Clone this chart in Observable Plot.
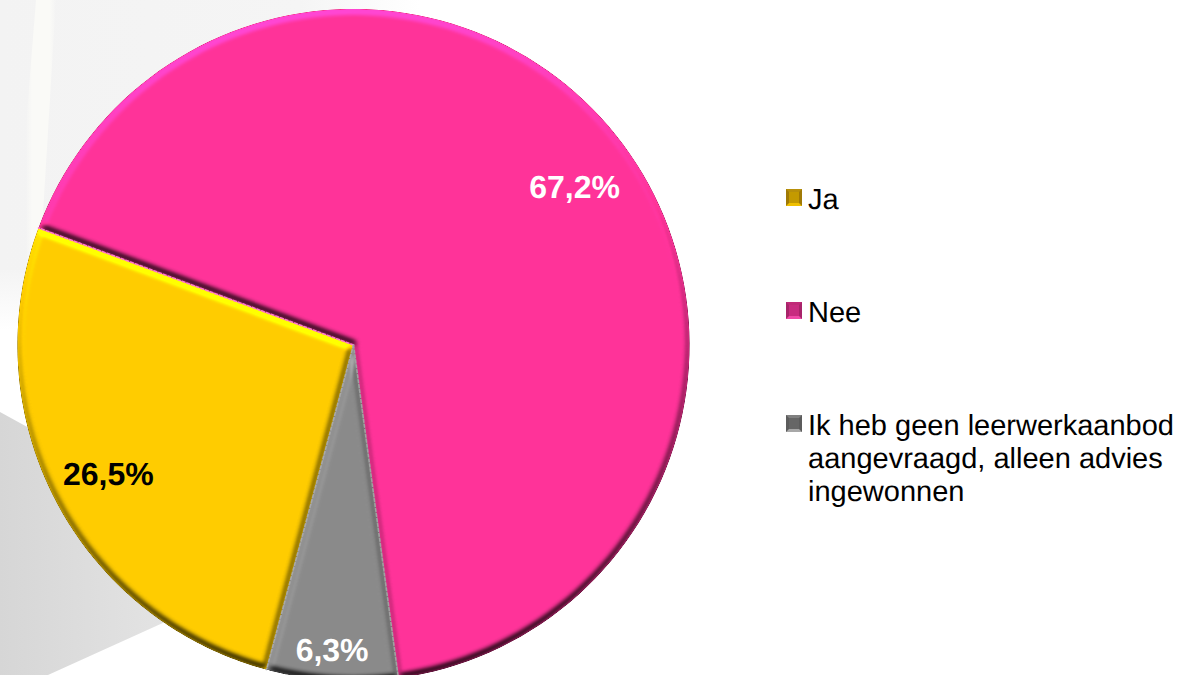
<!DOCTYPE html>
<html lang="nl">
<head>
<meta charset="utf-8">
<script src="https://cdn.jsdelivr.net/npm/d3@7"></script>
<script src="https://cdn.jsdelivr.net/npm/@observablehq/plot@0.6"></script>
<style>
  html, body { margin: 0; padding: 0; background: #fff; overflow: hidden; }
  #stage { position: relative; width: 1180px; height: 675px; overflow: hidden; font-family: "Liberation Sans", Arial, sans-serif; text-rendering: geometricPrecision; }
  .bg { position: absolute; inset: 0; }
  #bgTop { background: linear-gradient(90deg, #f3f3f3 0, #f5f5f5 300px, #ffffff 420px); clip-path: polygon(0 0, 440px 0, 300px 60px, 300px 350px, 0 280px); }
  #bgStreak { background: linear-gradient(90deg, transparent 26px, #fafaf7 32px, #fafaf7 50px, transparent 56px); clip-path: polygon(36px 0, 56px 0, 42px 230px, 12px 300px); }
  #bgWhite { background: linear-gradient(180deg, #f4f4f4 270px, #ffffff 330px); clip-path: polygon(0 270px, 30px 270px, 30px 420px, 0 410px); }
  #bgGrey { background: linear-gradient(90deg, #d6d6d6 0, #e6e6e6 200px); clip-path: polygon(0 412px, 60px 445px, 240px 610px, 165px 622px, 48px 675px, 0 675px); }
  #stage svg.chart { position: absolute; left: 0; top: 0; }
  #legend { position: absolute; left: 0; top: 0; font-size: 29px; line-height: 33px; color: #000; }
  .item { position: absolute; left: 786px; white-space: pre; }
  .item span { position: absolute; left: 22px; top: 0; }
  .item i { position: absolute; left: 0; top: 5px; width: 10px; height: 11px; border-style: solid; border-width: 3px; }
</style>
</head>
<body>
<svg width="0" height="0" style="position:absolute">
  <filter id="bevel" x="-5%" y="-5%" width="110%" height="110%" color-interpolation-filters="sRGB">
    <feMorphology in="SourceAlpha" operator="erode" radius="2" result="core"/>
    <feGaussianBlur in="core" stdDeviation="2.6" result="soft"/>
    <feDiffuseLighting in="soft" surfaceScale="2.2" diffuseConstant="1" lighting-color="#ffffff" result="lit">
      <feDistantLight azimuth="262" elevation="45"/>
    </feDiffuseLighting>
    <feComposite in="SourceGraphic" in2="lit" operator="arithmetic" k1="1.414" k2="0" k3="0" k4="0"/>
  </filter>
</svg>
<div id="stage">
  <div class="bg" id="bgTop"></div>
  <div class="bg" id="bgWhite"></div>
  <div class="bg" id="bgStreak"></div>
  <div class="bg" id="bgGrey"></div>
  <div id="legend"></div>
</div>
<script>
// Data
const categories = ["Ja", "Nee", "Ik heb geen leerwerkaanbod\naangevraagd, alleen advies\ningewonnen"];
const shares = [26.5, 67.2, 6.3];
const shareLabels = ["26,5%", "67,2%", "6,3%"];
const sliceColors = ["#ffcc00", "#ff3399", "#8a8a8a"];
const labelColors = ["#000000", "#ffffff", "#ffffff"];
const labelAngles = [242.2, 54.6, 184.0];   // degrees clockwise from 12 o'clock
const labelRadii = [0.825, 0.807, 0.913];   // fraction of the radius
const startAngle = 195;                     // where "Ja" starts
const seamColors = ["#a8a8a8", "#ff78cc", "#a0a0a0"]; // seam at the start of each slice
const legendTops = [184, 297, 410];
const swatchFills = ["#c49a00", "#c82c80", "#666666"];
const swatchEdges = [["#b8900a", "#a07a06", "#f0c000", "#a07a06"], ["#c02a78", "#a8246a", "#f04aa8", "#a8246a"], ["#808080", "#5c5c5c", "#a8a8a8", "#5c5c5c"]];

const W = 1180, H = 675, R = 336, CX = 353, CY = 344.5;
const rad = d => d * Math.PI / 180;

// Slice outlines in pie coordinates (unit radius, y up)
const total = d3.sum(shares);
let a0 = startAngle;
const seams = [];
const slices = shares.map((s, i) => {
  const a1 = a0 + s / total * 360;
  const steps = d3.range(0, 121).map(k => a0 + (a1 - a0) * k / 120);
  const pts = [{x: 0, y: 0}, ...steps.map(a => ({x: Math.sin(rad(a)), y: Math.cos(rad(a))})), {x: 0, y: 0}];
  seams.push([{x: 0, y: 0}, {x: Math.sin(rad(a0)), y: Math.cos(rad(a0))}]);
  a0 = a1;
  return pts;
});
const labels = shareLabels.map((t, i) => ({
  t, c: labelColors[i],
  x: labelRadii[i] * Math.sin(rad(labelAngles[i])),
  y: labelRadii[i] * Math.cos(rad(labelAngles[i]))
}));

const chart = Plot.plot({
  width: W, height: H, margin: 0,
  style: {background: "transparent", overflow: "visible"},
  x: {domain: [-CX / R, (W - CX) / R], range: [0, W], axis: null},
  y: {domain: [(CY - H) / R, CY / R], range: [H, 0], axis: null},
  marks: [
    ...slices.map((pts, i) => Plot.line(pts, {
      x: "x", y: "y", curve: "linear", fill: sliceColors[i], stroke: "none",
      imageFilter: "url(#bevel)"
    })),
    ...seams.map((pts, i) => Plot.line(pts, {
      x: "x", y: "y", stroke: seamColors[i], strokeWidth: 1.6, strokeDasharray: "3 2"
    })),
    Plot.text(labels, {
      x: "x", y: "y", text: "t", fill: "c",
      fontFamily: "Liberation Sans, Arial, sans-serif",
      fontWeight: "bold", fontSize: 32, textAnchor: "middle", lineAnchor: "middle"
    })
  ]
});
chart.classList.add("chart");
const stage = document.getElementById("stage");
stage.insertBefore(chart, document.getElementById("legend"));

// Legend
const legend = document.getElementById("legend");
categories.forEach((c, i) => {
  const item = document.createElement("div");
  item.className = "item";
  item.style.top = legendTops[i] + "px";
  const sw = document.createElement("i");
  sw.style.background = swatchFills[i];
  sw.style.borderColor = swatchEdges[i].join(" ");
  const tx = document.createElement("span");
  tx.textContent = c;
  item.append(sw, tx);
  legend.append(item);
});
</script>
</body>
</html>
